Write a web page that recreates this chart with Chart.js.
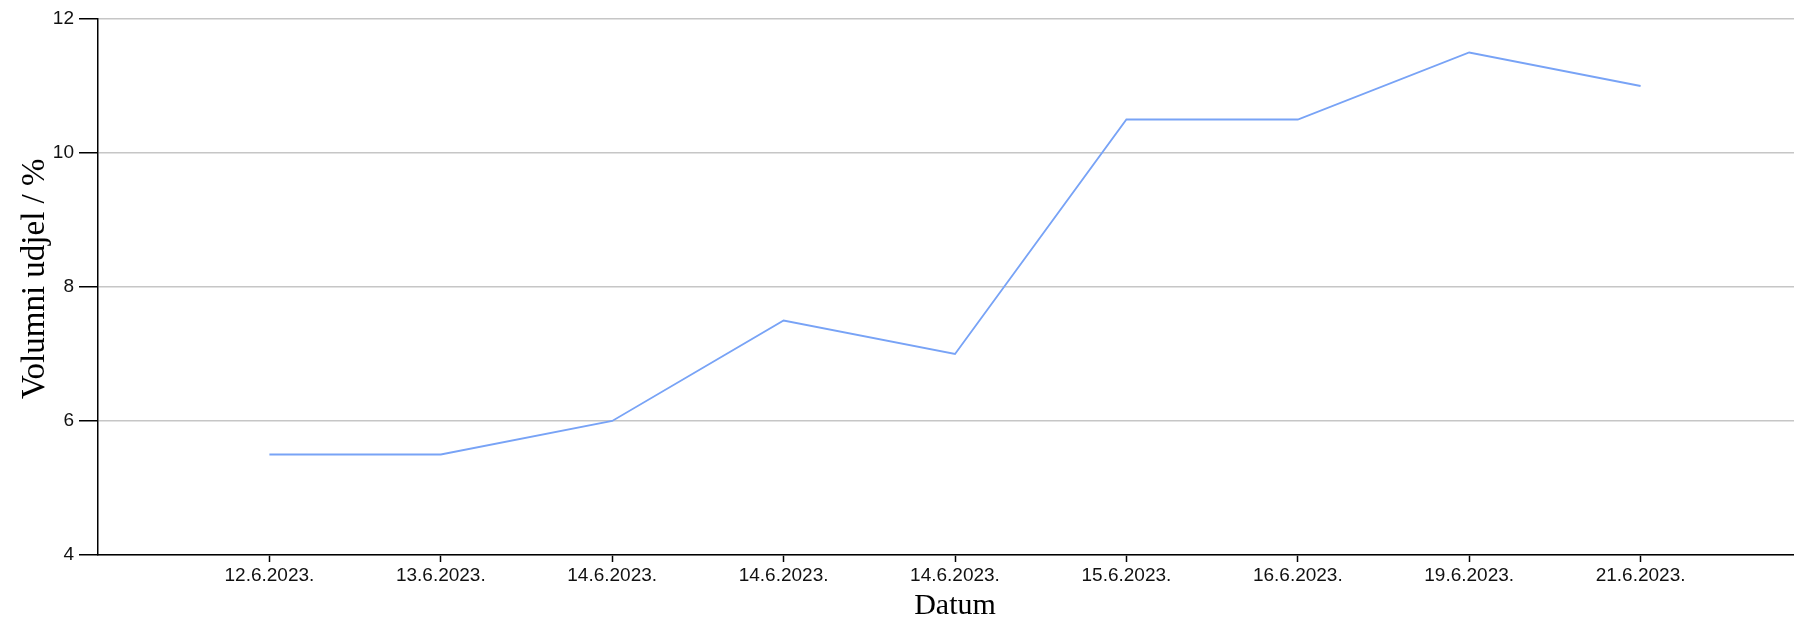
<!DOCTYPE html>
<html>
<head>
<meta charset="utf-8">
<script src="https://cdn.jsdelivr.net/npm/chart.js@4/dist/chart.umd.min.js"></script>
<style>
  html, body { margin: 0; padding: 0; background: #fff; overflow: hidden; }
  #wrap { width: 1794px; height: 624px; overflow: hidden; }
</style>
</head>
<body>
<div id="wrap"><canvas id="volChart" width="1812" height="624"></canvas></div>
<script>
// podaci očitani s grafa
const datumi  = ['12.6.2023.', '13.6.2023.', '14.6.2023.', '14.6.2023.', '14.6.2023.', '15.6.2023.', '16.6.2023.', '19.6.2023.', '21.6.2023.'];
const udjel   = [5.5, 5.5, 6, 7.5, 7, 10.5, 10.5, 11.5, 11];
const yTicks  = [4, 6, 8, 10, 12];

const tickFont = { family: "'Liberation Sans', Arial, sans-serif", size: 19 };
const serif    = "'Liberation Serif', 'Times New Roman', serif";

const points = udjel.map((v, i) => ({ x: i + 1, y: v }));

// desni rub osi malo izlazi iz slike, kao na originalu
new Chart(document.getElementById('volChart').getContext('2d'), {
  type: 'line',
  data: {
    datasets: [{
      data: points,
      borderColor: '#78a3f6',
      borderWidth: 1.8,
      pointRadius: 0,
      fill: false,
      tension: 0
    }]
  },
  options: {
    responsive: false,
    animation: false,
    layout: { padding: { top: 19, right: 0, bottom: 0, left: 0 } },
    plugins: { legend: { display: false }, tooltip: { enabled: false } },
    scales: {
      x: {
        type: 'linear',
        min: 0,
        max: 10,
        afterBuildTicks: s => { s.ticks = datumi.map((_, i) => ({ value: i + 1 })); },
        afterFit: s => { s.height = 69; },
        ticks: {
          autoSkip: false,
          maxRotation: 0,
          padding: 2,
          color: '#111',
          font: tickFont,
          callback: v => datumi[v - 1]
        },
        grid: { drawOnChartArea: false, tickLength: 7, tickColor: '#000', tickWidth: 1.5 },
        border: { color: '#000', width: 1.5 },
        title: { display: true, text: 'Datum', color: '#000', font: { family: serif, size: 30 }, padding: { top: 0, bottom: 0 } }
      },
      y: {
        min: 4,
        max: 12,
        afterBuildTicks: s => { s.ticks = yTicks.map(v => ({ value: v })); },
        afterFit: s => { s.width = 98; },
        ticks: { padding: 5, color: '#111', font: tickFont },
        grid: { color: '#c6c6c6', lineWidth: 1.5, tickLength: 19, tickColor: '#000', tickWidth: 1.5 },
        border: { color: '#000', width: 1.5 },
        // dva razmaka ispred da naslov sjedne malo više, kao na originalu
        title: { display: true, text: '\u00a0\u00a0Volumni udjel / %', color: '#000', font: { family: serif, size: 33 }, padding: { top: 16, bottom: 0 } }
      }
    }
  }
});
</script>
</body>
</html>
